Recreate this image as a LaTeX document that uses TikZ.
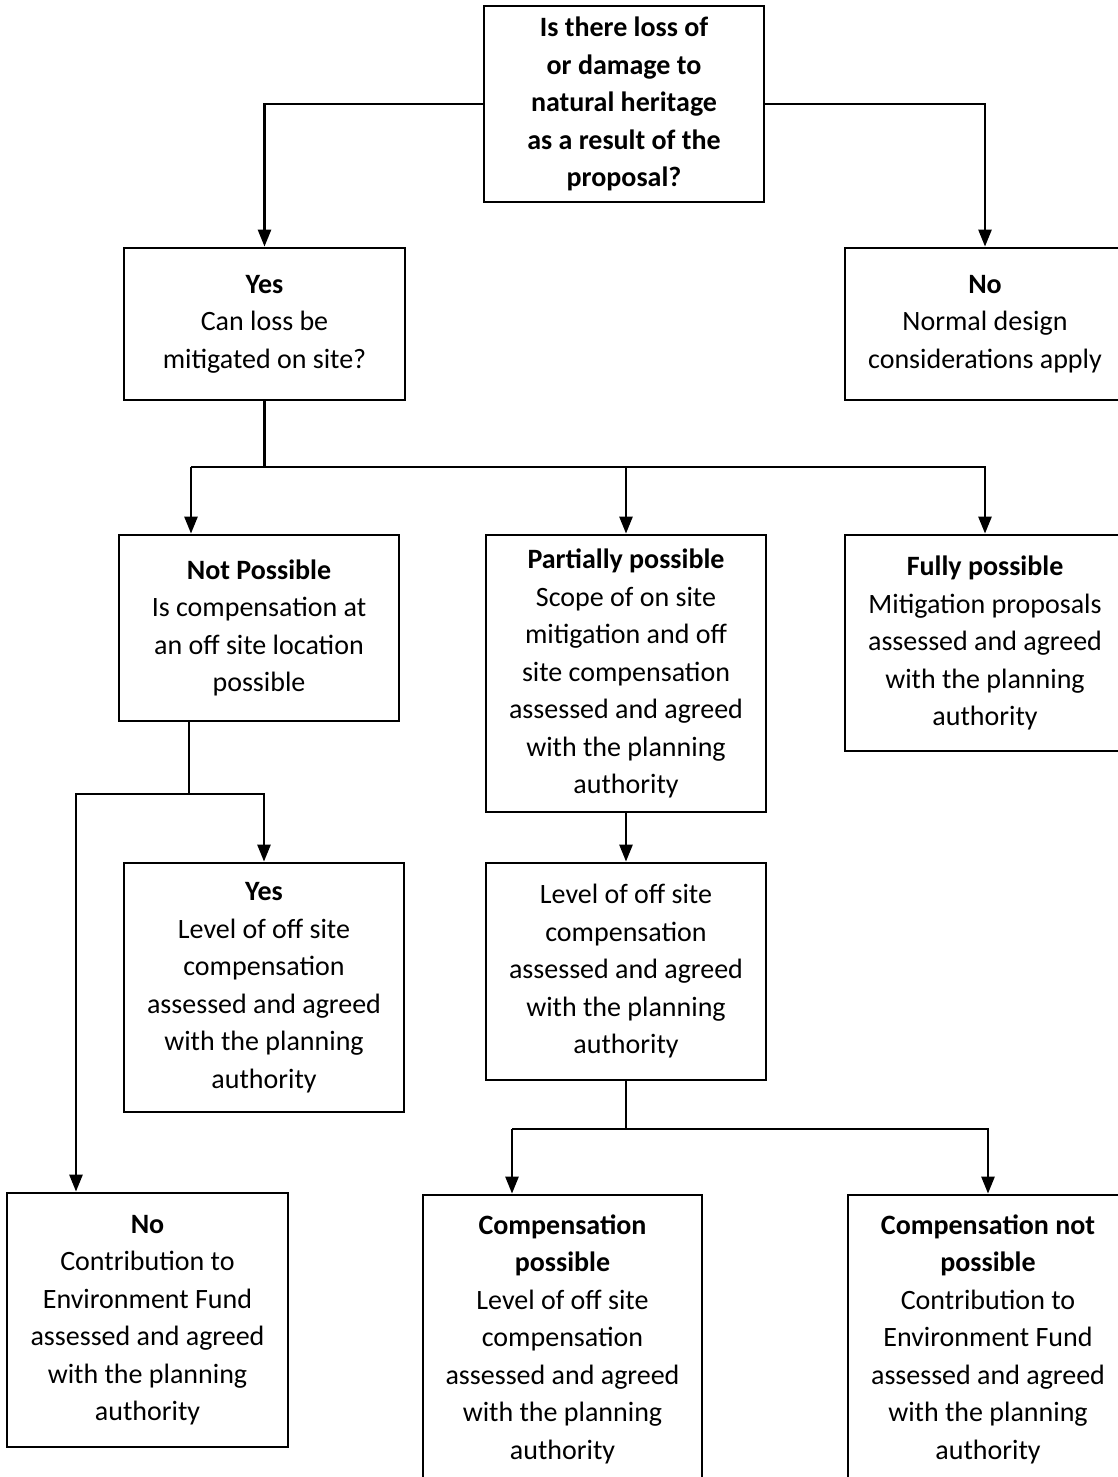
\documentclass[tikz,border=0pt]{standalone}
\usepackage{fontspec}
\setmainfont{Carlito}
\usetikzlibrary{arrows.meta}

\tikzset{
  box/.style={draw, line width=2.8pt, rectangle, align=center, inner sep=0pt,
    font=\fontsize{28}{37.5}\selectfont},
  flow/.style={line width=2.6pt, -{Triangle[length=17pt,width=13pt]}},
  link/.style={line width=2.6pt}
}

\begin{document}
\begin{tikzpicture}[x=1pt,y=-1pt]
        \useasboundingbox (0,0) rectangle (1117,1477);

        \begin{scope}[every node/.style={box}]
          \node (q)       at (624,104)    [minimum width=280pt, minimum height=196pt]
            {\textbf{Is there loss of}\\\textbf{or damage to}\\\textbf{natural heritage}\\\textbf{as a result of the}\\\textbf{proposal?}};
          \node (yes)     at (264.5,324)  [minimum width=281pt, minimum height=152pt]
            {\textbf{Yes}\\Can loss be\\mitigated on site?};
          \node (no)      at (985,324)    [minimum width=280pt, minimum height=152pt]
            {\textbf{No}\\Normal design\\considerations apply};
          \node (notposs) at (259,628)    [minimum width=280pt, minimum height=186pt]
            {\textbf{Not Possible}\\Is compensation at\\an off site location\\possible};
          \node (partial) at (626,673.5)  [minimum width=280pt, minimum height=277pt]
            {\textbf{Partially possible}\\Scope of on site\\mitigation and off\\site compensation\\assessed and agreed\\with the planning\\authority};
          \node (fully)   at (985,643)    [minimum width=280pt, minimum height=216pt]
            {\textbf{Fully possible}\\Mitigation proposals\\assessed and agreed\\with the planning\\authority};
          \node (yes2)    at (264,987.5)  [minimum width=280pt, minimum height=249pt]
            {\textbf{Yes}\\Level of off site\\compensation\\assessed and agreed\\with the planning\\authority};
          \node (level)   at (626,971.5)  [minimum width=280pt, minimum height=217pt]
            {Level of off site\\compensation\\assessed and agreed\\with the planning\\authority};
          \node (no2)     at (147.5,1320) [minimum width=281pt, minimum height=254pt]
            {\textbf{No}\\Contribution to\\Environment Fund\\assessed and agreed\\with the planning\\authority};
          \node (comp)    at (562.5,1339) [minimum width=279pt, minimum height=288pt]
            {\textbf{Compensation}\\\textbf{possible}\\Level of off site\\compensation\\assessed and agreed\\with the planning\\authority};
          \node (compnot) at (988,1339)   [minimum width=280pt, minimum height=288pt]
            {\textbf{Compensation not}\\\textbf{possible}\\Contribution to\\Environment Fund\\assessed and agreed\\with the planning\\authority};
        \end{scope}

        % junctions
        \coordinate (j1) at (191,467);
        \coordinate (j2) at (189,794);
        \coordinate (j2l) at (76,794);
        \coordinate (j3) at (512,1129);

        \draw[flow] (q.west) -| (yes.north);
        \draw[flow] (q.east) -| (no.north);

        \draw[link] (yes.south) |- (j1);
        \draw[flow] (j1) -- (j1 |- notposs.north);
        \draw[flow] (j1) -| (partial.north);
        \draw[flow] (j1) -| (fully.north);

        \draw[link] (j2 |- notposs.south) -- (j2);
        \draw[flow] (j2) -| (yes2.north);
        \draw[flow] (j2) -- (j2l) -- (j2l |- no2.north);

        \draw[flow] (partial) -- (level);

        \draw[link] (level.south) |- (j3);
        \draw[flow] (j3) -- (j3 |- comp.north);
        \draw[flow] (j3) -| (compnot.north);

      \end{tikzpicture}
\end{document}
